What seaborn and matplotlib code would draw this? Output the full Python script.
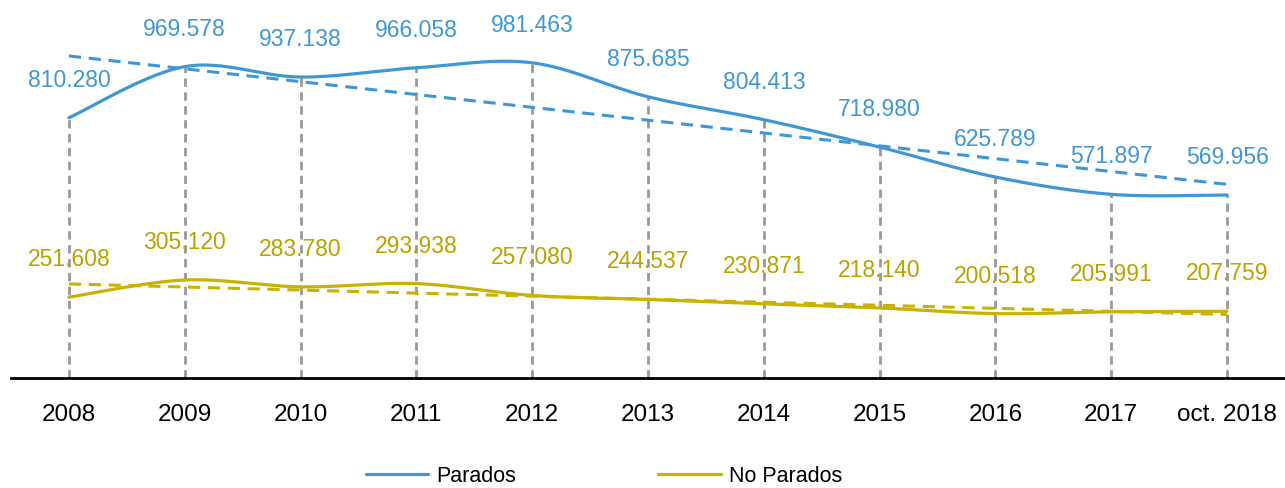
import numpy as np
import pandas as pd
import matplotlib
matplotlib.use("Agg")
import matplotlib.pyplot as plt
import seaborn as sns

sns.set_style("white")
plt.rcParams['font.family'] = ['Liberation Sans', 'DejaVu Sans']

# Data
years = ['2008', '2009', '2010', '2011', '2012', '2013', '2014', '2015', '2016', '2017', 'oct. 2018']
parados = [810.280, 969.578, 937.138, 966.058, 981.463, 875.685, 804.413, 718.980, 625.789, 571.897, 569.956]
no_parados = [251.608, 305.120, 283.780, 293.938, 257.080, 244.537, 230.871, 218.140, 200.518, 205.991, 207.759]

BLUE = '#3F97D6'
GOLD = '#C9B200'
GOLD_TXT = '#B9A300'
GRAY = '#999999'


def smooth(y, n=30):
    # Excel-style smoothed line: cubic Bezier with 1/6 tangents
    y = np.asarray(y, dtype=float)
    x = np.arange(len(y), dtype=float)
    pts = np.column_stack([x, y])
    out = []
    for i in range(len(pts) - 1):
        p0 = pts[max(i - 1, 0)]
        p1 = pts[i]
        p2 = pts[i + 1]
        p3 = pts[min(i + 2, len(pts) - 1)]
        c1 = p1 + (p2 - p0) / 6
        c2 = p2 - (p3 - p1) / 6
        t = np.linspace(0, 1, n, endpoint=(i == len(pts) - 2))[:, None]
        seg = ((1 - t) ** 3) * p1 + 3 * ((1 - t) ** 2) * t * c1 + 3 * (1 - t) * t ** 2 * c2 + t ** 3 * p2
        out.append(seg)
    out = np.vstack(out)
    return out[:, 0], out[:, 1]


fig = plt.figure(figsize=(12.85, 4.88), dpi=100)
ax = fig.add_axes([11 / 1285, 110 / 488, 1274 / 1285, 325 / 488])

x = np.arange(len(years))

# drop lines
ax.vlines(x, 0, parados, colors=GRAY, linestyles=(0, (3, 2)), linewidth=2, zorder=1)

series = [('Parados', parados, BLUE, BLUE), ('No Parados', no_parados, GOLD, GOLD_TXT)]
for name, vals, col, tcol in series:
    sx, sy = smooth(vals)
    df = pd.DataFrame({'x': sx, 'y': sy})
    sns.lineplot(data=df, x='x', y='y', ax=ax, color=col, linewidth=2.3, label=name,
                 sort=False, estimator=None, zorder=3)
    coef = np.polyfit(x, vals, 1)
    tdf = pd.DataFrame({'x': x, 'y': np.polyval(coef, x)})
    sns.lineplot(data=tdf, x='x', y='y', ax=ax, color=col, linewidth=2.2,
                 linestyle=(0, (4, 2.5)), zorder=2, legend=False)
    for xi, v in zip(x, vals):
        label = f"{v:.3f}"
        ax.annotate(label, (xi, v), xytext=(0, 27), textcoords='offset points',
                    ha='center', va='center', fontsize=16.5, color=tcol,
                    annotation_clip=False)

ax.set_xlim(-0.5, len(years) - 0.5)
ax.set_ylim(0, 1012)
ax.set_xticks(x)
ax.set_xticklabels(years, fontsize=17.5, color='black')
ax.set_yticks([])
ax.set_xlabel('')
ax.set_ylabel('')
ax.tick_params(axis='x', length=0, pad=19)
for s in ['top', 'right', 'left']:
    ax.spines[s].set_visible(False)
ax.spines['bottom'].set_color('black')
ax.spines['bottom'].set_linewidth(2)

ax.legend_.remove()
handles, labels = ax.get_legend_handles_labels()
leg = fig.legend(handles, labels, loc='center', bbox_to_anchor=(604 / 1285, 1 - 476 / 488),
                 ncol=2, frameon=False, fontsize=15.5, handlelength=2.9, handletextpad=0.38,
                 columnspacing=6.6)
for t in leg.get_texts():
    t.set_color('black')

fig.savefig('out.png', dpi=100)
